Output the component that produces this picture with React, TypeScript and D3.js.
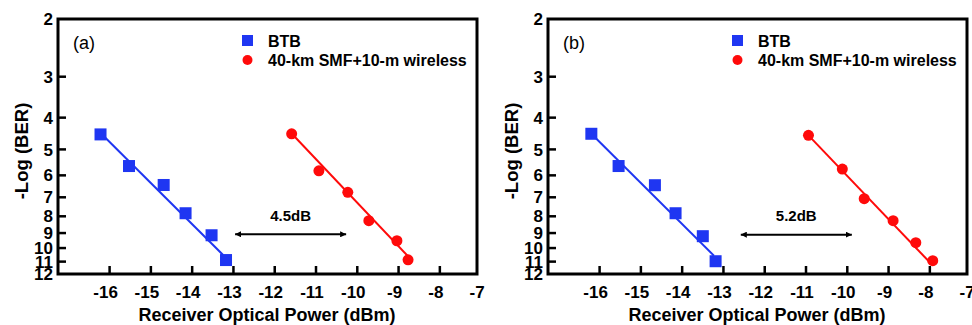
import React from "react";
import * as d3 from "d3";

const xTicks = [-16, -15, -14, -13, -12, -11, -10, -9, -8, -7];
const yTicks = [2, 3, 4, 5, 6, 7, 8, 9, 10, 11, 12];

const btbA = [
  { x: -16.22, y: 4.5 }, { x: -15.53, y: 5.62 }, { x: -14.69, y: 6.42 },
  { x: -14.16, y: 7.83 }, { x: -13.53, y: 9.14 }, { x: -13.18, y: 10.88 },
];
const smfA = [
  { x: -11.59, y: 4.48 }, { x: -10.93, y: 5.81 }, { x: -10.23, y: 6.76 },
  { x: -9.72, y: 8.25 }, { x: -9.04, y: 9.5 }, { x: -8.77, y: 10.86 },
];
const btbFitA = [{ x: -16.2, y: 4.48 }, { x: -13.25, y: 10.5 }];
const smfFitA = [{ x: -11.59, y: 4.47 }, { x: -8.76, y: 10.63 }];
const arrowA = [{ x: -12.96, y: 9.08 }, { x: -10.27, y: 9.08 }];

const btbB = [
  { x: -16.2, y: 4.48 }, { x: -15.54, y: 5.62 }, { x: -14.66, y: 6.43 },
  { x: -14.16, y: 7.83 }, { x: -13.5, y: 9.2 }, { x: -13.19, y: 10.97 },
];
const smfB = [
  { x: -10.94, y: 4.53 }, { x: -10.12, y: 5.74 }, { x: -9.59, y: 7.07 },
  { x: -8.89, y: 8.25 }, { x: -8.34, y: 9.63 }, { x: -7.93, y: 10.93 },
];
const btbFitB = [{ x: -16.2, y: 4.48 }, { x: -13.23, y: 10.55 }];
const smfFitB = [{ x: -10.94, y: 4.53 }, { x: -7.98, y: 11.13 }];
const arrowB = [{ x: -12.58, y: 9.1 }, { x: -9.89, y: 9.1 }];

const legendLabels = ["BTB", "40-km SMF+10-m wireless"];
const panelLabels = ["(a)", "(b)"];
const gapLabels = ["4.5dB", "5.2dB"];

const BLUE = "#1f36f2";
const RED = "#ff0a0a";
const FONT = "'Liberation Sans', Arial, sans-serif";

type P = { x: number; y: number };

function Panel(props: {
  ox: number; btb: P[]; smf: P[]; btbFit: P[]; smfFit: P[]; arrow: P[];
  label: string; gap: string; id: string;
}) {
  const { ox, btb, smf, btbFit, smfFit, arrow, label, gap, id } = props;
  const left = 58, right = 477, top = 19, bottom = 274;
  const x = d3.scaleLinear().domain([-17.25, -7.1]).range([left, right]);
  const y = d3.scaleLog().domain([2, 12]).range([top, bottom]);
  const line = d3.line<P>().x((d) => x(d.x)).y((d) => y(d.y));
  const ax1 = x(arrow[0].x), ax2 = x(arrow[1].x), ay = y(arrow[0].y);
  return (
    <g transform={`translate(${ox},0)`}>
      {yTicks.slice(1, -1).map((t) => (
        <line key={"yt" + t} x1={left} x2={left + 8} y1={y(t)} y2={y(t)} stroke="#000" strokeWidth={2.5} />
      ))}
      {xTicks.filter((t) => x(t) < right - 2).map((t) => (
        <line key={"xt" + t} x1={x(t)} x2={x(t)} y1={bottom} y2={bottom - 8} stroke="#000" strokeWidth={2.5} />
      ))}
      <rect x={left} y={top} width={right - left} height={bottom - top} fill="none" stroke="#000" strokeWidth={3} />
      {yTicks.map((t) => (
        <text key={"yl" + t} x={left - 5} y={y(t)} dy="0.36em" textAnchor="end"
          fontFamily={FONT} fontWeight="bold" fontSize={17}>{t}</text>
      ))}
      {xTicks.map((t) => (
        <text key={"xl" + t} x={x(t) - 4} y={298} textAnchor="middle"
          fontFamily={FONT} fontWeight="bold" fontSize={17}>{t}</text>
      ))}
      <text x={267} y={321} textAnchor="middle" fontFamily={FONT} fontWeight="bold" fontSize={18}>
        Receiver Optical Power (dBm)
      </text>
      <text transform={`translate(28,151) rotate(-90)`} textAnchor="middle" fontFamily={FONT}
        fontWeight="bold" fontSize={18.5}>-Log (BER)</text>
      <text x={73} y={49} fontFamily={FONT} fontSize={18}>{label}</text>
      <rect x={242} y={35} width={11} height={11} fill={BLUE} />
      <text x={268} y={46.5} fontFamily={FONT} fontWeight="bold" fontSize={16}>{legendLabels[0]}</text>
      <circle cx={247.5} cy={60} r={5} fill={RED} />
      <text x={268} y={65.5} fontFamily={FONT} fontWeight="bold" fontSize={16}>{legendLabels[1]}</text>
      <path d={line(btbFit) || ""} stroke={BLUE} strokeWidth={2} fill="none" />
      <path d={line(smfFit) || ""} stroke={RED} strokeWidth={2} fill="none" />
      {btb.map((d, i) => (
        <rect key={"b" + i} x={x(d.x) - 6} y={y(d.y) - 6} width={12} height={12} fill={BLUE} />
      ))}
      {smf.map((d, i) => (
        <circle key={"r" + i} cx={x(d.x)} cy={y(d.y)} r={5.5} fill={RED} />
      ))}
      <defs>
        <marker id={"ah" + id} viewBox="0 0 10 10" refX="10" refY="5" markerWidth="6" markerHeight="6"
          orient="auto-start-reverse" markerUnits="userSpaceOnUse">
          <path d="M0,0 L10,5 L0,10 z" fill="#000" />
        </marker>
      </defs>
      <line x1={ax1} x2={ax2} y1={ay} y2={ay} stroke="#000" strokeWidth={2}
        markerStart={`url(#ah${id})`} markerEnd={`url(#ah${id})`} />
      <text x={(ax1 + ax2) / 2} y={221} textAnchor="middle" fontFamily={FONT} fontWeight="bold" fontSize={15}>{gap}</text>
    </g>
  );
}

export default function App() {
  return (
    <svg width={972} height={325} style={{ position: "absolute", left: 0, top: 0, background: "#fff" }}>
      <rect width={972} height={325} fill="#fff" />
      <Panel ox={0} btb={btbA} smf={smfA} btbFit={btbFitA} smfFit={smfFitA} arrow={arrowA}
        label={panelLabels[0]} gap={gapLabels[0]} id="a" />
      <Panel ox={490} btb={btbB} smf={smfB} btbFit={btbFitB} smfFit={smfFitB} arrow={arrowB}
        label={panelLabels[1]} gap={gapLabels[1]} id="b" />
    </svg>
  );
}
